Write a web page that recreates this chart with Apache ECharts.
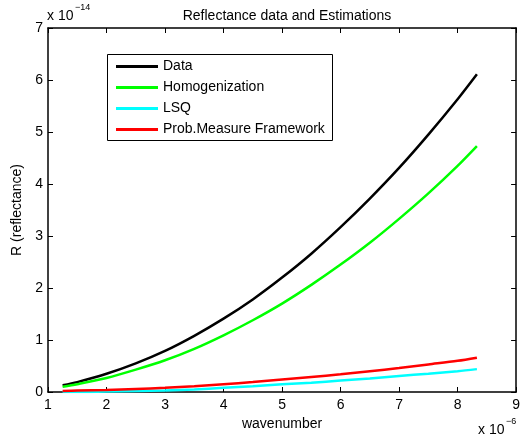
<!DOCTYPE html>
<html>
<head>
<meta charset="utf-8">
<script src="https://cdn.jsdelivr.net/npm/echarts@6/dist/echarts.min.js"></script>
<style>
  html, body { margin: 0; padding: 0; background: #fff; }
  #chart { width: 523px; height: 438px; }
</style>
</head>
<body>
<div id="chart"></div>
<script>
// wavenumber (x 10^-6) and reflectance (x 10^-14)
const wavenumber = [1.25, 1.5, 2, 2.5, 3, 3.5, 4, 4.5, 5, 5.5, 6, 6.5, 7, 7.5, 8, 8.33]
const dataR      = [0.13, 0.19, 0.35, 0.55, 0.79, 1.08, 1.41, 1.78, 2.20, 2.66, 3.17, 3.72, 4.31, 4.95, 5.63, 6.11]
const homogR     = [0.10, 0.15, 0.27, 0.43, 0.61, 0.83, 1.09, 1.38, 1.70, 2.06, 2.45, 2.87, 3.33, 3.82, 4.35, 4.73]
const lsqR       = [0.00, 0.00, 0.01, 0.02, 0.03, 0.05, 0.08, 0.11, 0.15, 0.18, 0.22, 0.26, 0.31, 0.35, 0.40, 0.44]
const probR      = [0.02, 0.03, 0.04, 0.06, 0.08, 0.11, 0.15, 0.19, 0.24, 0.29, 0.34, 0.40, 0.46, 0.53, 0.60, 0.66]

const names = ['Data', 'Homogenization', 'LSQ', 'Prob.Measure Framework']
const colors = ['#000000', '#00ff00', '#00ffff', '#ff0000']

const font = 'Liberation Sans, Arial, Helvetica, sans-serif'

function pairs(ys) {
  return wavenumber.map((x, i) => [x, ys[i]])
}

const chart = echarts.init(document.getElementById('chart'))

const axisCommon = {
  type: 'value',
  axisLine: { show: true, onZero: false, lineStyle: { color: '#000', width: 1.5 } },
  axisTick: { show: true, inside: true, length: 5, lineStyle: { color: '#000' } },
  splitLine: { show: false },
  axisLabel: { color: '#000', fontSize: 14, fontFamily: font }
}

chart.setOption({
  animation: false,
  backgroundColor: '#fff',
  title: {
    text: 'Reflectance data and Estimations',
    left: 282,
    top: 4,
    textAlign: 'center',
    textStyle: { color: '#000', fontSize: 14, fontWeight: 'normal', fontFamily: font }
  },
  grid: { left: 48, right: 6, top: 28, bottom: 46, containLabel: false },
  legend: {
    orient: 'vertical',
    left: 116,
    top: 59,
    padding: 0,
    itemGap: 6,
    itemWidth: 42,
    itemHeight: 3,
    icon: 'rect',
    data: names,
    textStyle: { color: '#000', fontSize: 14, lineHeight: 15, fontFamily: font }
  },
  xAxis: [
    Object.assign({}, axisCommon, {
      min: 1, max: 9, interval: 1, position: 'bottom',
      name: 'wavenumber', nameLocation: 'middle', nameGap: 25,
      nameTextStyle: { color: '#000', fontSize: 14, fontFamily: font },
      axisLabel: Object.assign({}, axisCommon.axisLabel, { margin: 6 })
    }),
    Object.assign({}, axisCommon, {
      min: 1, max: 9, interval: 1, position: 'top',
      axisLabel: { show: false }
    })
  ],
  yAxis: [
    Object.assign({}, axisCommon, {
      min: 0, max: 7, interval: 1, position: 'left',
      name: 'R (reflectance)', nameLocation: 'middle', nameGap: 15,
      nameTextStyle: { color: '#000', fontSize: 14, fontFamily: font },
      axisLabel: Object.assign({}, axisCommon.axisLabel, { margin: 5 })
    }),
    Object.assign({}, axisCommon, {
      min: 0, max: 7, interval: 1, position: 'right',
      axisLabel: { show: false }
    })
  ],
  graphic: [
    { type: 'text', left: 47, top: 9, style: { text: 'x 10', fill: '#000', font: '14px ' + font } },
    { type: 'text', left: 75, top: 3, style: { text: '\u221214', fill: '#000', font: '9px ' + font } },
    { type: 'text', left: 478, top: 423, style: { text: 'x 10', fill: '#000', font: '14px ' + font } },
    { type: 'text', left: 506, top: 417, style: { text: '\u22126', fill: '#000', font: '9px ' + font } },
    {
      type: 'rect', left: 107, top: 54, silent: true, z: 0,
      shape: { width: 225, height: 86 },
      style: { fill: '#fff', stroke: '#000', lineWidth: 1 }
    }
  ],
  series: [dataR, homogR, lsqR, probR].map((ys, i) => ({
    name: names[i],
    type: 'line',
    data: pairs(ys),
    smooth: 0.3,
    symbol: 'none',
    xAxisIndex: 0,
    yAxisIndex: 0,
    z: 2,
    lineStyle: { color: colors[i], width: 2.5 },
    itemStyle: { color: colors[i] }
  }))
})
</script>
</body>
</html>
